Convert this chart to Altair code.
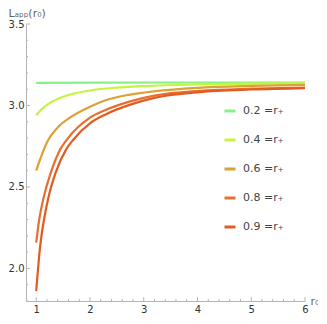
import altair as alt
import pandas as pd

# ---- data ----
names = ["0.2 =r₊", "0.4 =r₊", "0.6 =r₊", "0.8 =r₊", "0.9 =r₊"]
colors = ["#86f285", "#c4f43c", "#dca235", "#e8702e", "#e25c22"]

r0_02 = [1.0, 2.0, 4.0, 6.0]
L_02 = [3.139, 3.140, 3.141, 3.141]

r0_04 = [1.0, 1.1, 1.25, 1.5, 2.0, 2.5, 3.0, 4.0, 5.0, 6.0]
L_04 = [2.94, 2.976, 3.014, 3.053, 3.092, 3.11, 3.119, 3.129, 3.134, 3.136]

r0_06 = [1.0, 1.137, 1.21, 1.4, 1.64, 2.0, 2.29, 2.75, 3.22, 4.0, 5.0, 6.0]
L_06 = [2.60, 2.725, 2.78, 2.865, 2.928, 2.992, 3.032, 3.067, 3.088, 3.108, 3.12, 3.127]

r0_08 = [1.0, 1.053, 1.142, 1.27, 1.45, 1.57, 2.0, 2.29, 2.75, 3.22, 4.04, 5.0, 6.0]
L_08 = [2.158, 2.294, 2.44, 2.586, 2.732, 2.79, 2.925, 2.972, 3.025, 3.062, 3.09, 3.103, 3.11]

r0_09 = [1.0, 1.077, 1.142, 1.23, 1.36, 1.56, 1.69, 2.0, 2.29, 2.75, 3.22, 4.04, 5.0, 6.0]
L_09 = [1.861, 2.148, 2.294, 2.44, 2.586, 2.732, 2.79, 2.89, 2.945, 3.005, 3.048, 3.082, 3.098, 3.107]

x_major = [1, 2, 3, 4, 5, 6]
x_minor = [1.2, 1.4, 1.6, 1.8, 2.2, 2.4, 2.6, 2.8, 3.2, 3.4, 3.6, 3.8,
           4.2, 4.4, 4.6, 4.8, 5.2, 5.4, 5.6, 5.8]
y_major = [2.0, 2.5, 3.0, 3.5]
y_minor = [1.8, 1.9, 2.1, 2.2, 2.3, 2.4, 2.6, 2.7, 2.8, 2.9, 3.1, 3.2, 3.3, 3.4]

rows = []
for name, xs, ys in zip(names, [r0_02, r0_04, r0_06, r0_08, r0_09],
                        [L_02, L_04, L_06, L_08, L_09]):
    for a, b in zip(xs, ys):
        rows.append({"series": name, "r0": a, "L": b})
df = pd.DataFrame(rows)

W, H = 279, 277
AX = "#b4b4b4"
FONT = "DejaVu Sans"
xscale = alt.Scale(domain=[0.81, 6], nice=False, zero=False)
yscale = alt.Scale(domain=[1.8, 3.5], nice=False, zero=False)

lines = alt.Chart(df).mark_line(strokeWidth=2.2, interpolate="monotone", clip=True).encode(
    x=alt.X("r0:Q", scale=xscale,
            axis=alt.Axis(values=x_major, ticks=False, grid=False, domainColor=AX,
                          labelColor="#333", labelFontSize=10, labelFont=FONT,
                          labelPadding=3, labelFlush=False,
                          title="r₀", titleX=W + 5, titleY=0, titleAlign="left",
                          titleBaseline="middle", titleAngle=0, titleFontWeight="normal",
                          titleColor="#666", titleFontSize=11, titleFont=FONT)),
    y=alt.Y("L:Q", scale=yscale,
            axis=alt.Axis(values=y_major, format=".1f", ticks=False, grid=False,
                          domainColor=AX, labelColor="#333", labelFontSize=10,
                          labelFont=FONT, labelPadding=2, labelFlush=False,
                          title="Lₐₚₚ(r₀)", titleAngle=0, titleX=-18, titleY=-11,
                          titleAlign="left", titleBaseline="middle",
                          titleFontWeight="normal", titleColor="#666",
                          titleFontSize=11, titleFont=FONT)),
    color=alt.Color("series:N", scale=alt.Scale(domain=names, range=colors),
                    legend=alt.Legend(orient="none", legendX=197, legendY=80, title=None,
                                      symbolType="stroke", symbolSize=121,
                                      symbolStrokeWidth=3, labelFontSize=11,
                                      labelFont=FONT, labelColor="#444",
                                      rowPadding=16, labelOffset=6, padding=0)),
)

def xticks(vals, ln):
    return alt.Chart(pd.DataFrame({"r0": vals})).mark_rule(color=AX, strokeWidth=1).encode(
        x=alt.X("r0:Q", scale=xscale), y=alt.value(H), y2=alt.value(H - ln))

def yticks(vals, ln):
    return alt.Chart(pd.DataFrame({"L": vals})).mark_rule(color=AX, strokeWidth=1).encode(
        y=alt.Y("L:Q", scale=yscale), x=alt.value(0), x2=alt.value(ln))

chart = alt.layer(
    lines,
    xticks(x_major, 4), xticks(x_minor, 2),
    yticks(y_major, 4), yticks(y_minor, 2),
).properties(
    width=W, height=H,
    autosize=alt.AutoSizeParams(type="none"),
    padding={"left": 18, "top": 16, "right": 13, "bottom": 15},
).configure_view(stroke=None)

chart.save("out.html", embed_options={"renderer": "svg", "actions": False})
